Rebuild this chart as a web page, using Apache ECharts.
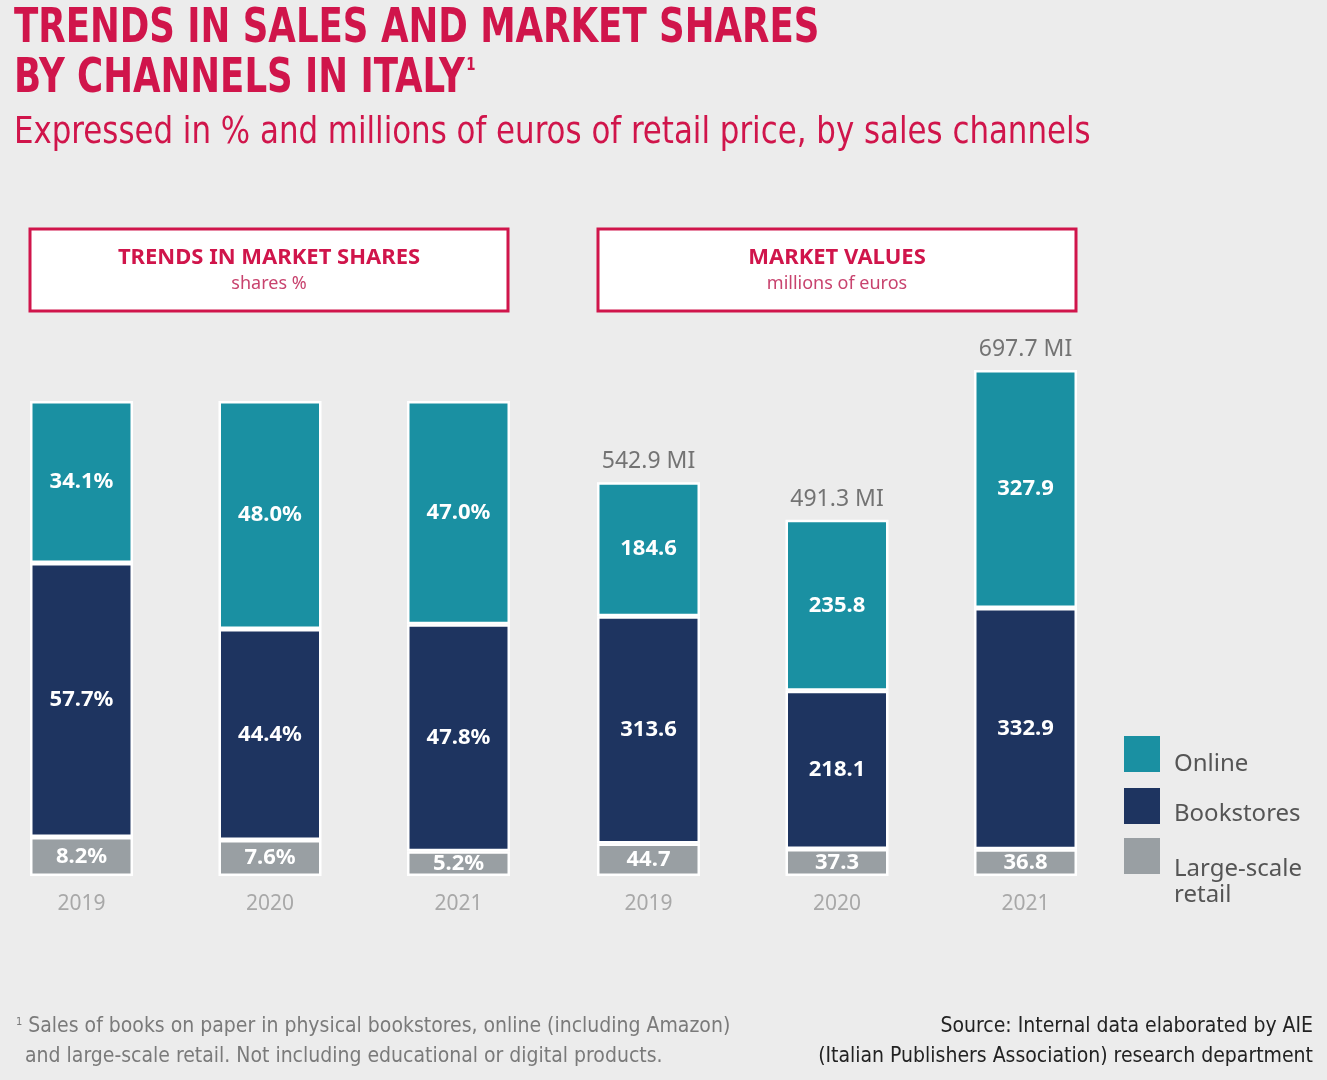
<!DOCTYPE html>
<html><head><meta charset="utf-8">
<script src="https://cdn.jsdelivr.net/npm/echarts@6/dist/echarts.min.js"></script>
<style>html,body{margin:0;padding:0;background:#ececec}#c{width:1327px;height:1080px}</style>
</head><body><div id="c"></div>
<script>
// ---- data ----
const years = ['2019', '2020', '2021'];
const shareOnline = [34.1, 48.0, 47.0];
const shareBookstores = [57.7, 44.4, 47.8];
const shareLarge = [8.2, 7.6, 5.2];
const valueOnline = [184.6, 235.8, 327.9];
const valueBookstores = [313.6, 218.1, 332.9];
const valueLarge = [44.7, 37.3, 36.8];
const valueTotals = [542.9, 491.3, 697.7];
const channelNames = ['Online', 'Bookstores', 'Large-scale retail'];

// ---- style ----
const C_ONLINE = '#1a90a2', C_BOOK = '#1e3460', C_LARGE = '#999fa3';
const RED = '#d0154b';
const BG = '#ececec';
const FONT = '"Noto Sans", sans-serif';
const NARROW = '"DejaVu Sans Condensed", "DejaVu Sans", sans-serif';

const chart = echarts.init(document.getElementById('c'), null, {renderer: 'canvas'});

function bar(name, data, idx, color, fmt) {
  return {
    type: 'bar', name: name, data: data, xAxisIndex: idx, yAxisIndex: idx,
    stack: 'g' + idx, barWidth: 103, clip: false,
    itemStyle: {color: color, borderColor: '#ffffff', borderWidth: 2.5},
    emphasis: {disabled: true},
    label: {show: true, position: 'inside', color: '#ffffff', fontFamily: FONT,
      fontWeight: 'bold', fontSize: 22, formatter: fmt}
  };
}
const pct = p => p.value.toFixed(1) + '%';
const num = p => p.value.toFixed(1);

// one legend per channel so each text can sit slightly below its swatch, as in the original
function legendItem(name, top, fmt, lh) {
  return {
    left: 1124, top: top, padding: 0, orient: 'vertical',
    itemWidth: 36, itemHeight: 36, icon: 'rect', selectedMode: false,
    data: [name], formatter: fmt,
    itemStyle: {borderWidth: 0},
    textStyle: {fontFamily: FONT, fontSize: 24, color: '#555555', lineHeight: lh,
      padding: [0, 0, 0, 9]}
  };
}

function box(x, title, sub) {
  return [
    {type: 'rect', shape: {x: x, y: 229, width: 478, height: 82},
      style: {fill: '#ffffff', stroke: RED, lineWidth: 3}},
    {type: 'text', x: x + 239, y: 258, style: {text: title, fill: RED,
      font: 'bold 22px ' + FONT, align: 'center', verticalAlign: 'middle'}},
    {type: 'text', x: x + 239, y: 284, style: {text: sub, fill: '#c8436e',
      font: '18px ' + FONT, align: 'center', verticalAlign: 'middle'}}
  ];
}

const option = {
  backgroundColor: BG,
  animation: false,
  grid: [
    {left: 81.5, width: 377, top: 401, bottom: 204},
    {left: 648.5, width: 377, top: 372, bottom: 204}
  ],
  xAxis: [0, 1].map(i => ({
    type: 'category', gridIndex: i, data: years, boundaryGap: false,
    axisLine: {show: false}, axisTick: {show: false}, splitLine: {show: false},
    axisLabel: {color: '#a8a8a8', fontFamily: FONT, fontSize: 21, margin: 18}
  })),
  yAxis: [
    {type: 'value', gridIndex: 0, min: 0, max: 100, show: false},
    {type: 'value', gridIndex: 1, min: 0, max: 695, show: false}
  ],
  legend: [
    legendItem('Online', 732, n => '\n' + n, 20),
    legendItem('Bookstores', 786, n => '\n' + n, 16),
    legendItem('Large-scale retail', 804, () => '\n\nLarge-scale\nretail', 26)
  ],
  series: [
    bar('Large-scale retail', shareLarge, 0, C_LARGE, pct),
    bar('Bookstores', shareBookstores, 0, C_BOOK, pct),
    bar('Online', shareOnline, 0, C_ONLINE, pct),
    bar('Large-scale retail', valueLarge, 1, C_LARGE, num),
    bar('Bookstores', valueBookstores, 1, C_BOOK, num),
    bar('Online', valueOnline, 1, C_ONLINE, num),
    {
      type: 'scatter', name: 'Total', data: valueTotals, xAxisIndex: 1, yAxisIndex: 1,
      symbolSize: 0, silent: true, clip: false,
      label: {show: true, position: 'top', distance: 9, color: '#555555',
        fontFamily: FONT, fontSize: 23, formatter: p => p.value.toFixed(1) + ' MI'}
    }
  ],
  graphic: [
    {type: 'text', x: 14, y: 30, scaleX: 0.824, style: {
      text: 'TRENDS IN SALES AND MARKET SHARES',
      fill: RED, font: 'bold 48px ' + NARROW, verticalAlign: 'middle'}},
    {type: 'text', x: 14, y: 80, scaleX: 0.824, style: {
      text: 'BY CHANNELS IN ITALY{sup|1}',
      fill: RED, font: 'bold 48px ' + NARROW, verticalAlign: 'middle',
      rich: {sup: {font: 'bold 18px ' + NARROW, fill: RED, verticalAlign: 'top', padding: [0, 0, 24, 2]}}}},
    {type: 'text', x: 14, y: 133, scaleX: 0.903, style: {
      text: 'Expressed in % and millions of euros of retail price, by sales channels',
      fill: RED, font: '38px ' + NARROW, verticalAlign: 'middle'}},
    ...box(30, 'TRENDS IN MARKET SHARES', 'shares %'),
    ...box(598, 'MARKET VALUES', 'millions of euros'),
    {type: 'text', x: 16, y: 1027, style: {
      text: '{s|1} Sales of books on paper in physical bookstores, online (including Amazon)',
      fill: '#7a7a7a', font: '21px ' + NARROW, verticalAlign: 'middle',
      rich: {s: {font: '11px ' + NARROW, fill: '#7a7a7a', verticalAlign: 'top', padding: [0, 0, 10, 0]}}}},
    {type: 'text', x: 25, y: 1057, style: {
      text: 'and large-scale retail. Not including educational or digital products.',
      fill: '#7a7a7a', font: '21px ' + NARROW, verticalAlign: 'middle'}},
    {type: 'text', x: 1313, y: 1027, style: {
      text: 'Source: Internal data elaborated by AIE',
      fill: '#222222', font: '21px ' + NARROW, align: 'right', verticalAlign: 'middle'}},
    {type: 'text', x: 1313, y: 1057, style: {
      text: '(Italian Publishers Association) research department',
      fill: '#222222', font: '21px ' + NARROW, align: 'right', verticalAlign: 'middle'}}
  ]
};
chart.setOption(option);
</script>
</body></html>
